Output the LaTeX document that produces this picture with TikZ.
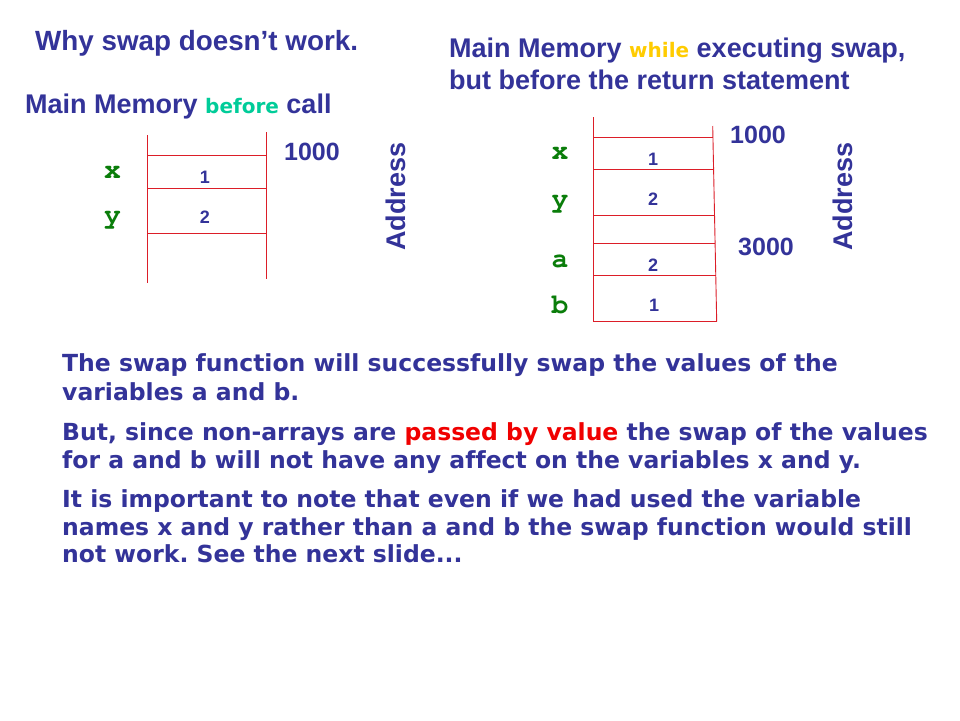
\documentclass[tikz,border=0pt]{standalone}
\usepackage{fontspec}
\setmainfont{Liberation Sans}
\newfontfamily\verd[Ligatures=NoCommon]{DejaVu Sans}
\newfontfamily\cour{TeX Gyre Cursor}
\definecolor{txtblue}{RGB}{51,51,153}
\definecolor{lblgreen}{RGB}{10,125,10}
\definecolor{beforegreen}{RGB}{0,204,153}
\definecolor{whileyellow}{RGB}{255,204,0}
\definecolor{linered}{RGB}{220,30,40}
\definecolor{valred}{RGB}{240,0,0}
\frenchspacing
\tikzset{
  memline/.style={draw=linered, line width=0.9pt},
  heading/.style={inner sep=0pt, anchor=base west, text=txtblue, font=\bfseries\fontsize{27}{32}\selectfont},
  addr/.style={inner sep=0pt, anchor=base, text=txtblue, font=\bfseries\fontsize{25}{30}\selectfont},
  vlabel/.style={inner sep=0pt, anchor=base, text=lblgreen, font=\cour\bfseries\fontsize{28}{30}\selectfont},
  cellval/.style={inner sep=0pt, anchor=base, text=txtblue, font=\bfseries\fontsize{18}{22}\selectfont},
  addrword/.style={inner sep=0pt, anchor=base, rotate=90, text=txtblue, font=\bfseries\fontsize{27}{30}\selectfont},
  body/.style={inner sep=0pt, anchor=base west, text=txtblue, font=\verd\bfseries\fontsize{23.5}{27}\selectfont},
}
\begin{document}
\begin{tikzpicture}[x=1pt,y=-1pt]
\useasboundingbox[fill=white] (0,0) rectangle (960,720);

% titles
\node[heading, font=\bfseries\fontsize{27.8}{32}\selectfont] (title) at (35,50) {Why swap doesn’t work.};
\node[heading] (lefthead) at (25,113) {Main Memory {\verd\fontsize{20}{24}\selectfont\textcolor{beforegreen}{before}} call};
\node[heading] (righthead1) at (449,57) {Main Memory {\verd\fontsize{20}{24}\selectfont\textcolor{whileyellow}{while}} executing swap,};
\node[heading] (righthead2) at (449,89) {but before the return statement};

% left memory
\draw[memline] (147,135) -- (147,283);
\draw[memline] (266,132) -- (266,279);
\draw[memline] (148,155) -- (266,155);
\draw[memline] (148,188) -- (266,188);
\draw[memline] (148,233) -- (267,233);
\node[vlabel] (lx) at (112.5,178) {x};
\node[vlabel] (ly) at (112.5,223) {y};
\node[cellval] (lv1) at (205,183) {1};
\node[cellval] (lv2) at (205,223) {2};
\node[addr] (la1000) at (312,160) {1000};
\node[addrword] (laddr) at (405,196.5) {Address};

% right memory
\draw[memline] (593.3,117) -- (593.3,321.7);
\draw[memline] (712.7,126) -- (716.7,321.7);
\draw[memline] (594,137) -- (713,137);
\draw[memline] (594,169.3) -- (713.4,169.3);
\draw[memline] (594,215) -- (714.2,215);
\draw[memline] (594,243.3) -- (714.8,243.3);
\draw[memline] (594,275.3) -- (715.5,275.3);
\draw[memline] (594,321.7) -- (716.7,321.7);
\node[vlabel] (rx) at (560,159) {x};
\node[vlabel] (ry) at (560,207) {y};
\node[vlabel] (ra) at (560,267) {a};
\node[vlabel] (rb) at (560,313) {b};
\node[cellval] (rv1) at (653,165) {1};
\node[cellval] (rv2) at (653,205) {2};
\node[cellval] (rv3) at (653,271) {2};
\node[cellval] (rv4) at (654,311) {1};
\node[addr] (ra1000) at (758,143) {1000};
\node[addr] (ra3000) at (766,255) {3000};
\node[addrword] (raddr) at (852,196.5) {Address};

% body text
\node[body] (b1) at (62,371) {The swap function will successfully swap the values of the};
\node[body] (b2) at (62,400) {variables a and b.};
\node[body] (b3) at (62,440) {But, since non-arrays are \textcolor{valred}{passed by value} the swap of the values};
\node[body] (b4) at (62,468) {for a and b will not have any affect on the variables x and y.};
\node[body] (b5) at (62,507) {It is important to note that even if we had used the variable};
\node[body] (b6) at (62,535) {names x and y rather than a and b the swap function would still};
\node[body] (b7) at (62,562) {not work. See the next slide...};
\end{tikzpicture}
\end{document}
